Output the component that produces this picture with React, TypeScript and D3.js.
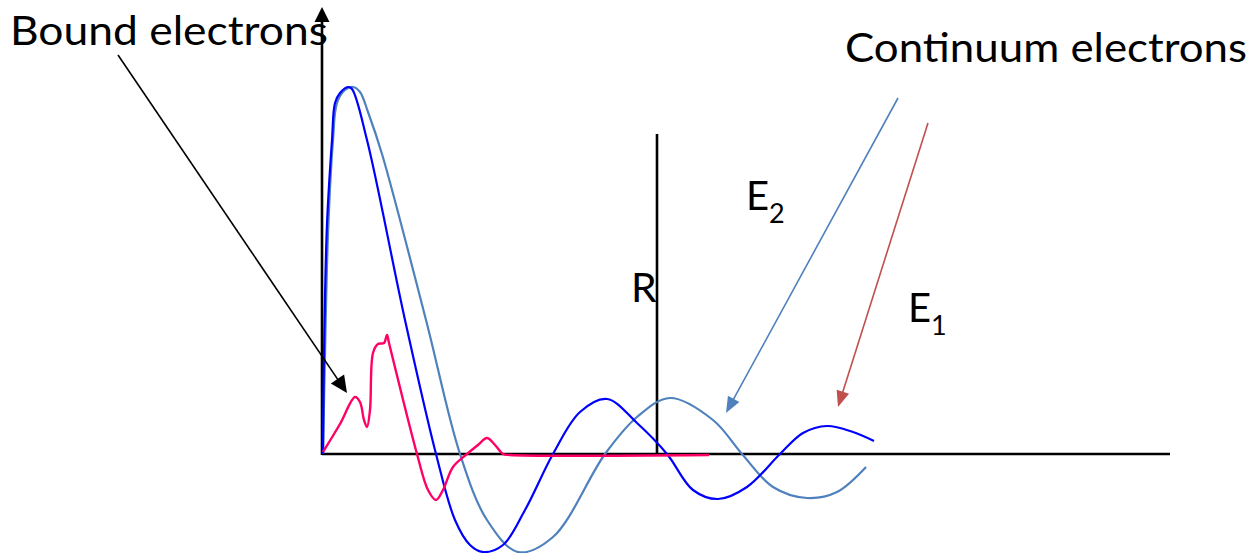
import React from "react";
import * as d3 from "d3";

// Radial wavefunctions sketched against r (arbitrary units); amplitude in arbitrary units.
const boundR = [0.01, 0.18, 0.33, 0.38, 0.42, 0.45, 0.48, 0.51, 0.56, 0.62, 0.65, 0.67, 0.95, 1.06, 1.14, 1.21, 1.31, 1.45, 1.56, 1.65, 1.73, 1.81, 1.88, 3.87];
const boundA = [0.02, 0.30, 0.57, 0.52, 0.34, 0.27, 0.44, 1.01, 1.10, 1.11, 1.19, 1.11, 0.0, -0.36, -0.46, -0.36, -0.13, 0.0, 0.09, 0.16, 0.09, 0.0, -0.01, -0.01];

const e1R = [0.01, 0.02, 0.05, 0.10, 0.13, 0.18, 0.26, 0.30, 0.45, 0.83, 1.14, 1.33, 1.48, 1.61, 1.81, 2.03, 2.31, 2.58, 2.85, 3.15, 3.45, 3.71, 3.96, 4.25, 4.58, 4.81, 5.05, 5.31, 5.52];
const e1A = [0.0, 1.0, 2.3, 3.14, 3.51, 3.61, 3.67, 3.65, 3.14, 1.34, 0.0, -0.66, -0.91, -0.98, -0.91, -0.56, 0.0, 0.42, 0.55, 0.31, 0.0, -0.36, -0.45, -0.33, 0.0, 0.21, 0.28, 0.22, 0.13];

const e2R = [0.01, 0.03, 0.06, 0.11, 0.15, 0.23, 0.31, 0.38, 0.46, 0.60, 1.04, 1.38, 1.65, 1.96, 2.31, 2.83, 3.15, 3.48, 3.91, 4.20, 4.51, 4.85, 5.15, 5.44];
const e2A = [0.0, 1.0, 2.2, 3.14, 3.51, 3.64, 3.67, 3.62, 3.42, 3.0, 1.34, 0.0, -0.66, -0.98, -0.83, 0.0, 0.37, 0.56, 0.34, 0.0, -0.33, -0.44, -0.38, -0.13];

// Axis extents and the marker radius R
const rAxisMax = 8.48;
const ampAxisTop = 4.47;
const markerR = 3.35;
const markerTop = 3.2;

// Annotation arrows: [rStart, aStart, rEnd, aEnd]
const boundArrow = [-2.04, 3.99, 0.25, 0.61];
const e2Arrow = [5.76, 3.56, 4.04, 0.41];
const e1Arrow = [6.06, 3.31, 5.16, 0.47];

const labelBound = "Bound electrons";
const labelContinuum = "Continuum electrons";

const W = 1257;
const H = 553;

const x = d3.scaleLinear().domain([0, 10]).range([322, 1322]);
const y = d3.scaleLinear().domain([-1, 4]).range([554, 54]);

const line = d3
  .line<[number, number]>()
  .x((d) => x(d[0]))
  .y((d) => y(d[1]))
  .curve(d3.curveCatmullRom.alpha(0.5));

const zip = (rs: number[], as: number[]): [number, number][] => rs.map((r, i) => [r, as[i]]);

function Arrow({ spec, color, width, headLen, headHalf }: { spec: number[]; color: string; width: number; headLen: number; headHalf: number }) {
  const x0 = x(spec[0]);
  const y0 = y(spec[1]);
  const x1 = x(spec[2]);
  const y1 = y(spec[3]);
  const dx = x1 - x0;
  const dy = y1 - y0;
  const len = Math.hypot(dx, dy);
  const ux = dx / len;
  const uy = dy / len;
  const bx = x1 - ux * headLen;
  const by = y1 - uy * headLen;
  const px = -uy;
  const py = ux;
  const pts = `${x1},${y1} ${bx + px * headHalf},${by + py * headHalf} ${bx - px * headHalf},${by - py * headHalf}`;
  return (
    <g>
      <line x1={x0} y1={y0} x2={bx + ux * 2} y2={by + uy * 2} stroke={color} strokeWidth={width} />
      <polygon points={pts} fill={color} />
    </g>
  );
}

export default function App() {
  const font = "Lato, 'Open Sans', sans-serif";
  return (
    <svg width={W} height={H} style={{ position: "absolute", left: 0, top: 0, background: "#fff" }}>
      <rect width={W} height={H} fill="#fff" />
      {/* axes */}
      <line x1={x(0)} y1={y(0)} x2={x(rAxisMax)} y2={y(0)} stroke="#000" strokeWidth={2.6} />
      <line x1={x(0)} y1={y(0) + 1} x2={x(0)} y2={y(ampAxisTop) + 12} stroke="#000" strokeWidth={2.6} />
      <polygon
        points={`${x(0)},${y(ampAxisTop)} ${x(0) - 7.5},${y(ampAxisTop) + 15} ${x(0) + 7.5},${y(ampAxisTop) + 15}`}
        fill="#000"
      />
      {/* marker at R */}
      <line x1={x(markerR)} y1={y(0)} x2={x(markerR)} y2={y(markerTop)} stroke="#000" strokeWidth={2.6} />

      {/* wavefunctions */}
      <path d={line(zip(e2R, e2A)) ?? ""} fill="none" stroke="#4f81bd" strokeWidth={2.2} />
      <path d={line(zip(e1R, e1A)) ?? ""} fill="none" stroke="#0000ff" strokeWidth={2.2} />
      <path d={line(zip(boundR, boundA)) ?? ""} fill="none" stroke="#ff0066" strokeWidth={2.4} />

      {/* annotation arrows */}
      <Arrow spec={boundArrow} color="#000" width={1.6} headLen={17} headHalf={8} />
      <Arrow spec={e2Arrow} color="#4f81bd" width={1.6} headLen={16} headHalf={6.5} />
      <Arrow spec={e1Arrow} color="#c0504d" width={1.6} headLen={16} headHalf={6.5} />

      {/* labels */}
      <text x={10} y={45} fontFamily={font} fontSize={40} textLength={318} lengthAdjust="spacingAndGlyphs" fill="#000">
        {labelBound}
      </text>
      <text x={845} y={62} fontFamily={font} fontSize={41} textLength={402} lengthAdjust="spacingAndGlyphs" fill="#000">
        {labelContinuum}
      </text>
      <text x={631} y={302} fontFamily={font} fontSize={41} fill="#000">
        R
      </text>
      <text x={746} y={210} fontFamily={font} fontSize={40} fill="#000">
        E
        <tspan fontSize={27} dy={13}>2</tspan>
      </text>
      <text x={908} y={322} fontFamily={font} fontSize={40} fill="#000">
        E
        <tspan fontSize={27} dy={13}>1</tspan>
      </text>
    </svg>
  );
}
